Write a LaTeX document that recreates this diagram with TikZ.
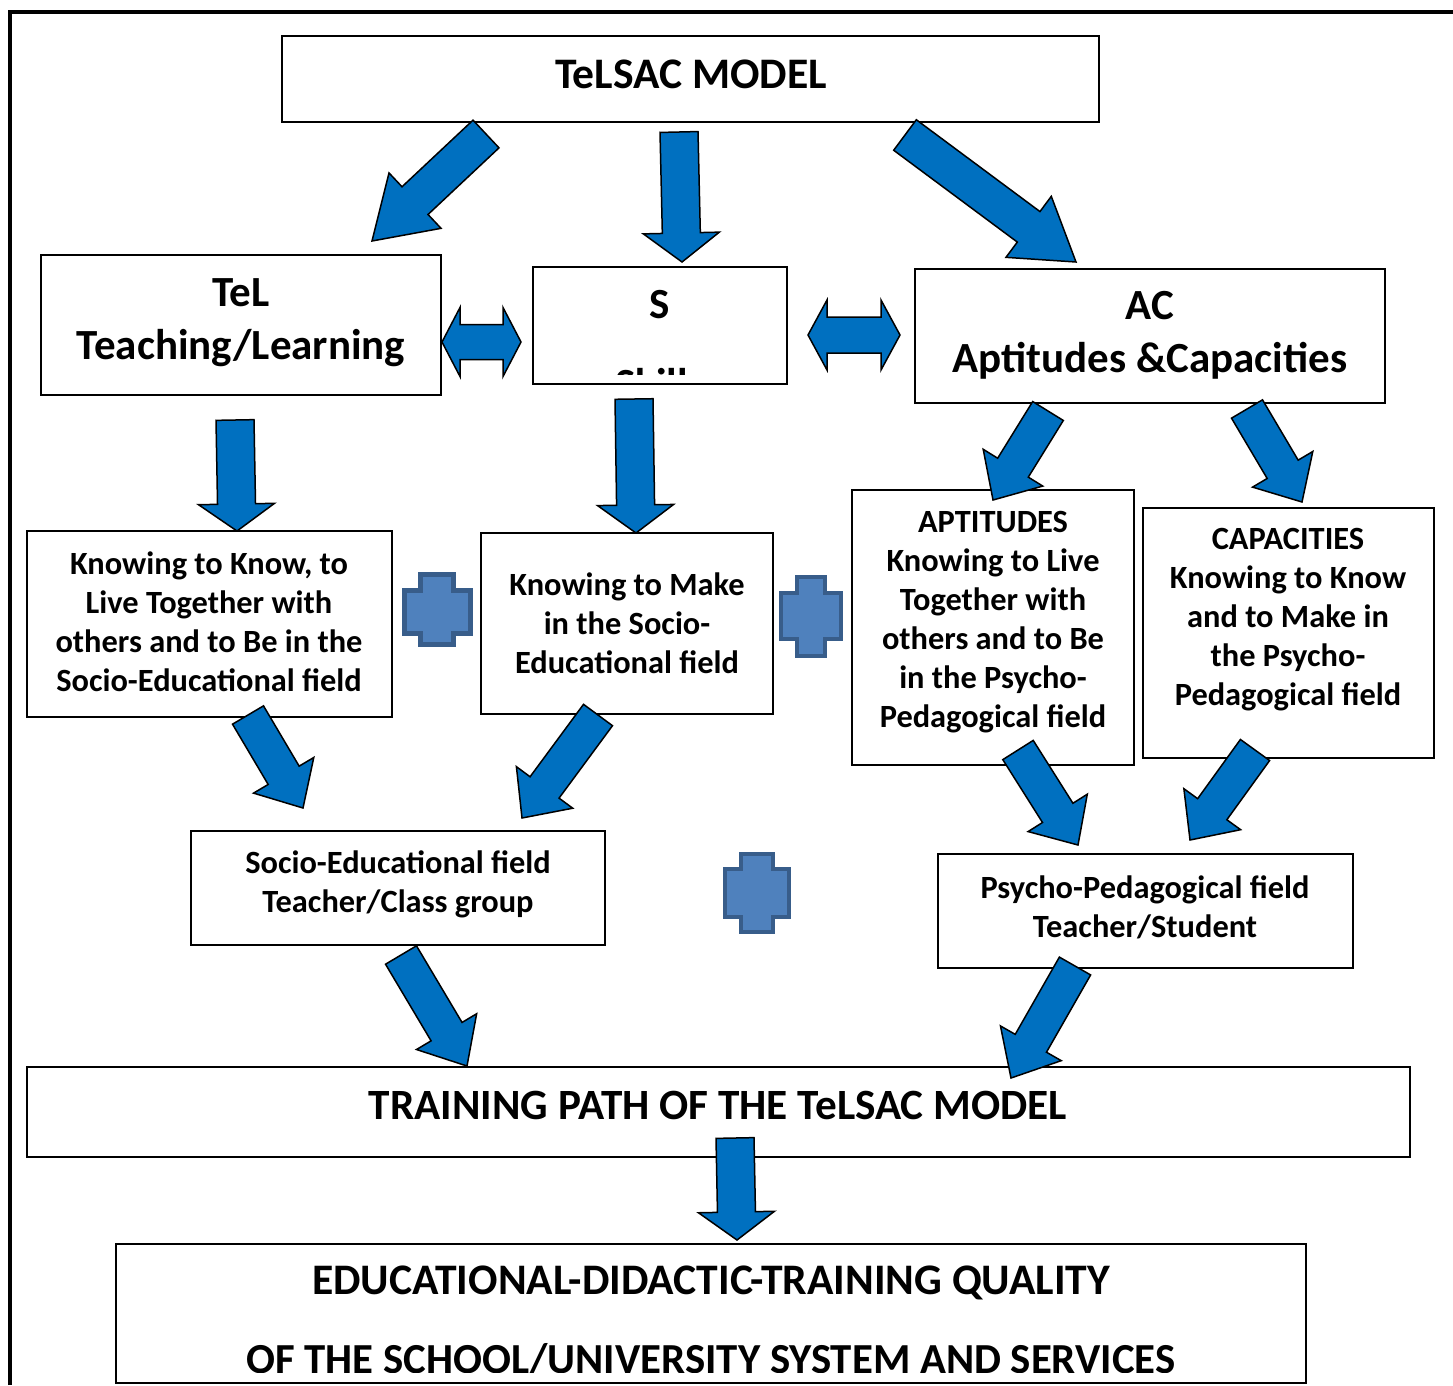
\documentclass[tikz,border=0pt]{standalone}
\usepackage{fontspec}
\setmainfont{Carlito}
\usetikzlibrary{calc}

\definecolor{arrowblue}{RGB}{0,112,192}
\definecolor{plusfill}{RGB}{79,129,189}
\definecolor{plusedge}{RGB}{56,93,138}

\tikzset{
  box/.style={draw=black, line width=2pt, fill=white, inner sep=0pt},
  bigtxt/.style={font=\bfseries\fontsize{43}{53}\selectfont, align=center, inner sep=0pt},
  headtxt/.style={font=\bfseries\fontsize{43.6}{53}\selectfont, align=center, inner sep=0pt},
  midtxt/.style={font=\bfseries\fontsize{32.4}{39}\selectfont, align=center, inner sep=0pt},
  blockarrow/.style={draw=black, line width=1.5pt, fill=arrowblue, line join=miter},
  plussign/.style={draw=plusedge, line width=4.5pt, fill=plusfill, line join=miter},
}

% block arrow: tail, tip, half shaft width, half head width, head length
\newcommand\blockarrow[5]{%
  \coordinate (ahb) at ($(#2)!#5!(#1)$);
  \draw[blockarrow]
    ($(#1)!#3!90:(#2)$) -- ($(ahb)!#3!90:(#2)$) -- ($(ahb)!#4!90:(#2)$) -- (#2)
    -- ($(ahb)!#4!-90:(#2)$) -- ($(ahb)!#3!-90:(#2)$) -- ($(#1)!#3!-90:(#2)$) -- cycle;
}
% double-headed block arrow: left tip, right tip, half shaft, half head, head length
\newcommand\twowayarrow[5]{%
  \coordinate (dha) at ($(#1)!#5!(#2)$);
  \coordinate (dhb) at ($(#2)!#5!(#1)$);
  \draw[blockarrow]
    (#1) -- ($(dha)!#4!90:(#2)$) -- ($(dha)!#3!90:(#2)$) -- ($(dhb)!#3!-90:(#1)$)
    -- ($(dhb)!#4!-90:(#1)$) -- (#2) -- ($(dhb)!#4!90:(#1)$) -- ($(dhb)!#3!90:(#1)$)
    -- ($(dha)!#3!-90:(#2)$) -- ($(dha)!#4!-90:(#2)$) -- cycle;
}
% plus sign: outer x1,y1,x2,y2 and arm limits vx1,vx2,hy1,hy2
\newcommand\plusshape[8]{%
  \draw[plussign] (#5,#2) -- (#6,#2) -- (#6,#7) -- (#3,#7) -- (#3,#8) -- (#6,#8)
    -- (#6,#4) -- (#5,#4) -- (#5,#8) -- (#1,#8) -- (#1,#7) -- (#5,#7) -- cycle;
}

\begin{document}
\begin{tikzpicture}[x=1pt,y=-1pt]
\useasboundingbox (0,0) rectangle (1453,1385);
\fill[white] (0,0) rectangle (1453,1385);

% outer frame (left and top only)
\draw[line width=4.5pt] (10,1385) -- (10,12) -- (1453,12);

% boxes
\node[box, minimum width=817pt, minimum height=86pt]  (top) at (690.5,79) {};
\node[box, minimum width=400pt, minimum height=140pt] (tel) at (241,325) {};
\node[box, minimum width=254pt, minimum height=117pt] (s)   at (660,325.5) {};
\node[box, minimum width=470pt, minimum height=134pt] (ac)  at (1150,336) {};
\node[box, minimum width=365pt, minimum height=186pt] (k1)  at (209.5,624) {};
\node[box, minimum width=292pt, minimum height=181pt] (k2)  at (627,623.5) {};
\node[box, minimum width=282pt, minimum height=275pt] (apt) at (993,627.5) {};
\node[box, minimum width=291pt, minimum height=250pt] (cap) at (1288.5,633) {};
\node[box, minimum width=414pt, minimum height=114pt] (se)  at (398,888) {};
\node[box, minimum width=415pt, minimum height=114pt] (pp)  at (1145.5,911) {};
\node[box, minimum width=1383pt, minimum height=90pt] (tp)  at (718.5,1112) {};
\node[box, minimum width=1190pt, minimum height=139pt] (eq) at (711,1313.5) {};

% texts
\node[headtxt] (top-t) at (691,74) {TeLSAC MODEL};
\node[bigtxt] (tel-t) at (241,322.5) {TeL\\Teaching/Learning};
\node[bigtxt] (s-t) at (660,305) {S};
\begin{scope}
  \clip (534,268) rectangle (786,374);
  \node[bigtxt, anchor=base] (s-t2) at (660,398) {Skills};
\end{scope}
\node[bigtxt] (ac-t) at (1150,335.5) {AC\\Aptitudes \&Capacities};
\node[midtxt] (k1-t) at (209,621.5) {Knowing to Know, to\\Live Together with\\others and to Be in the\\Socio-Educational field};
\node[midtxt] (k2-t) at (627,623) {Knowing to Make\\in the Socio-\\Educational field};
\node[midtxt] (apt-t) at (993,622.5) {APTITUDES\\Knowing to Live\\Together with\\others and to Be\\in the Psycho-\\Pedagogical field};
\node[midtxt] (cap-t) at (1288,620) {CAPACITIES\\Knowing to Know\\and to Make in\\the Psycho-\\Pedagogical field};
\node[midtxt] (se-t) at (398,884.5) {Socio-Educational field\\Teacher/Class group};
\node[midtxt] (pp-t) at (1145,907) {Psycho-Pedagogical field\\Teacher/Student};
\node[headtxt, font=\bfseries\fontsize{43.2}{53}\selectfont] (tp-t) at (718,1105) {TRAINING PATH OF THE TeLSAC MODEL};
\node[headtxt] (eq-t) at (711,1283) {EDUCATIONAL-DIDACTIC-TRAINING QUALITY};
\begin{scope}
  \clip (117,1300) rectangle (1305,1372.5);
  \node[headtxt, font=\bfseries\fontsize{42.8}{53}\selectfont, anchor=base] (eq-t2) at (711,1373) {OF THE SCHOOL/UNIVERSITY SYSTEM AND SERVICES};
\end{scope}

% arrow end points
\coordinate (a1s) at (486,134);   \coordinate (a1e) at (372,241);
\coordinate (a2s) at (679,132);   \coordinate (a2e) at (682,262);
\coordinate (a3s) at (905,135);   \coordinate (a3e) at (1076,262);
\coordinate (a4s) at (235,420);   \coordinate (a4e) at (237,531);
\coordinate (a5s) at (634,399);   \coordinate (a5e) at (636,533);
\coordinate (a6s) at (1048,411);  \coordinate (a6e) at (993,500);
\coordinate (a7s) at (1247,409);  \coordinate (a7e) at (1302,502);
\coordinate (a8s) at (248,715);   \coordinate (a8e) at (303,808);
\coordinate (a9s) at (598,715);   \coordinate (a9e) at (522,818);
\coordinate (a10s) at (1018,750); \coordinate (a10e) at (1078,845);
\coordinate (a11s) at (1255,750); \coordinate (a11e) at (1190,840);
\coordinate (a12s) at (401,955);  \coordinate (a12e) at (467,1066);
\coordinate (a13s) at (1075,966); \coordinate (a13e) at (1011,1078);
\coordinate (a14s) at (735,1138); \coordinate (a14e) at (737,1240);
\coordinate (d1a) at (442,342);   \coordinate (d1b) at (521,342);
\coordinate (d2a) at (808,335);   \coordinate (d2b) at (900,335);

% block arrows
\blockarrow{a1s}{a1e}{19pt}{38pt}{59pt}
\blockarrow{a2s}{a2e}{19pt}{38pt}{29pt}
\blockarrow{a3s}{a3e}{19pt}{38pt}{59pt}
\blockarrow{a4s}{a4e}{19pt}{38pt}{27pt}
\blockarrow{a5s}{a5e}{19pt}{38pt}{28pt}
\blockarrow{a6s}{a6e}{18pt}{35pt}{38pt}
\blockarrow{a7s}{a7e}{18pt}{35pt}{38pt}
\blockarrow{a8s}{a8e}{18pt}{35pt}{38pt}
\blockarrow{a9s}{a9e}{18pt}{35pt}{38pt}
\blockarrow{a10s}{a10e}{18pt}{35pt}{38pt}
\blockarrow{a11s}{a11e}{18pt}{35pt}{38pt}
\blockarrow{a12s}{a12e}{18pt}{35pt}{40pt}
\blockarrow{a13s}{a13e}{18pt}{35pt}{40pt}
\blockarrow{a14s}{a14e}{19pt}{38pt}{28pt}
\twowayarrow{d1a}{d1b}{17.5pt}{34.5pt}{18pt}
\twowayarrow{d2a}{d2b}{18pt}{35pt}{19pt}

% plus signs
\plusshape{404.5}{574.5}{470.5}{644.5}{420.5}{453.5}{590.5}{633.5}
\plusshape{781}{577}{841}{656}{797}{825}{593}{639}
\plusshape{725}{854}{789}{932}{741}{773}{869}{917}
\end{tikzpicture}
\end{document}
